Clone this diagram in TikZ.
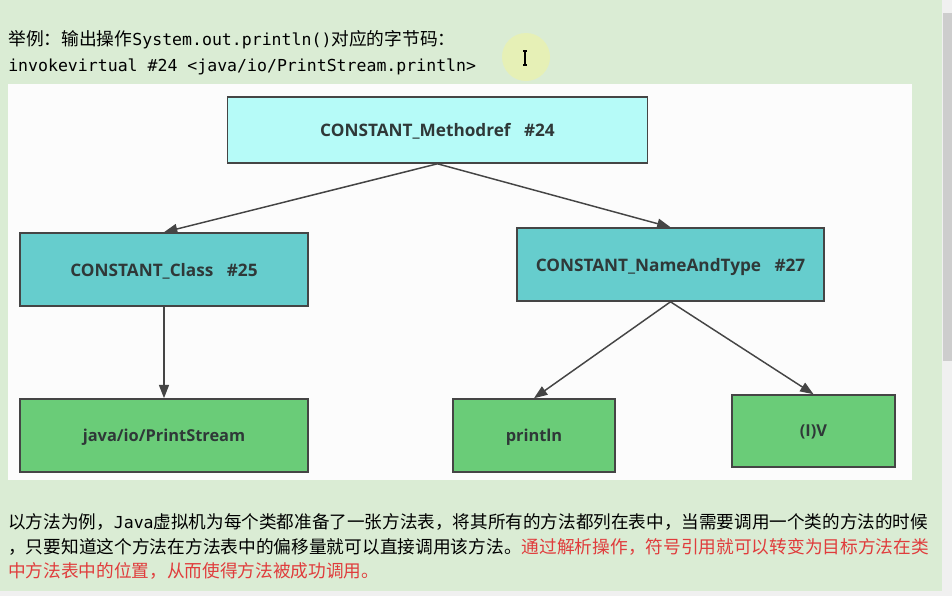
\documentclass[tikz,border=0pt]{standalone}
\usepackage{fontspec}
\setmainfont{Open Sans}
\newfontfamily\cjk{Noto Sans CJK SC}
\newfontfamily\mono{DejaVu Sans Mono}
\newfontfamily\boxfont{Open Sans}
\usetikzlibrary{arrows.meta}
\definecolor{bg}{HTML}{DAECD4}
\definecolor{panel}{HTML}{FCFCFC}
\definecolor{cyanlight}{HTML}{B6FBF8}
\definecolor{cyanmid}{HTML}{66CDCD}
\definecolor{greenbox}{HTML}{6ACC78}
\definecolor{edge}{HTML}{454545}
\definecolor{boxtext}{HTML}{2F3838}
\definecolor{redtext}{HTML}{E03C3C}
\definecolor{track}{HTML}{F0F0F0}
\definecolor{thumb}{HTML}{CDCDCD}
\begin{document}
\begin{tikzpicture}[x=0.75pt,y=-0.75pt,
  cbox/.style={draw=edge,line width=1.2pt,inner sep=0pt,text depth=0pt,font=\boxfont\bfseries\fontsize{12.9}{15}\selectfont,text=boxtext},
  leaf/.style={cbox,fill=greenbox,font=\boxfont\bfseries\fontsize{12.3}{15}\selectfont},
  conn/.style={draw=edge,line width=1.1pt,-{Triangle[length=10pt,width=7.5pt]}},
  para/.style={anchor=west,inner sep=0pt}]
\useasboundingbox (0,0) rectangle (952,596);
\fill[bg] (0,0) rectangle (952,596);
\fill[track] (942,0) rectangle (952,596);
\fill[thumb] (943,13) rectangle (952,361);
\fill[track] (0,591) rectangle (942,596);
% cursor highlight
\fill[yellow!50!white,opacity=0.35] (526,57) circle[radius=24];
\draw[line width=0.8pt] (523,51) -- (527,51) (525,51) -- (525,65) (523,65) -- (527,65);
% header text
\node[para] (h1) at (8,40) {\cjk\fontsize{13.3}{16}\selectfont 举例：输出操作{\mono\fontsize{12.4}{15}\selectfont System.out.println()}对应的字节码：};
\node[para] (h2) at (8,67) {\mono\fontsize{12.4}{15}\selectfont invokevirtual \#24 <java/io/PrintStream.println>};
% panel
\fill[panel] (8,84) rectangle (912,480);
% boxes
\node[cbox,fill=cyanlight,minimum width=315pt,minimum height=49.5pt] (mref) at (437.5,130) {CONSTANT\_Methodref\ \ \ \#24};
\node[cbox,fill=cyanmid,minimum width=216pt,minimum height=54.75pt] (cls) at (164,269.5) {CONSTANT\_Class\ \ \ \#25};
\node[cbox,fill=cyanmid,minimum width=230.25pt,minimum height=54.75pt] (nat) at (670.5,264.5) {CONSTANT\_NameAndType\ \ \ \#27};
\node[leaf,minimum width=216pt,minimum height=54.75pt] (ps) at (164,435.5) {java/io/PrintStream};
\node[leaf,minimum width=121.5pt,minimum height=54.75pt] (pl) at (534,435.5) {println};
\node[leaf,minimum width=122.25pt,minimum height=54pt] (iv) at (813.5,431) {(I)V};
% connectors
\draw[conn] (mref.south) -- (cls.north);
\draw[conn] (mref.south) -- (nat.north);
\draw[conn] (cls.south) -- (ps.north);
\draw[conn] (nat.south) -- (pl.north);
\draw[conn] (nat.south) -- (iv.north);
% bottom text
\node[para] (b1) at (8,522) {\cjk\fontsize{13.2}{16}\selectfont 以方法为例，{\mono\fontsize{12.4}{15}\selectfont Java}虚拟机为每个类都准备了一张方法表，将其所有的方法都列在表中，当需要调用一个类的方法的时候};
\node[para] (b2) at (8,547) {\cjk\fontsize{13.28}{16}\selectfont ，只要知道这个方法在方法表中的偏移量就可以直接调用该方法。\textcolor{redtext}{通过解析操作，符号引用就可以转变为目标方法在类}};
\node[para] (b3) at (8,571) {\cjk\fontsize{13.25}{16}\selectfont\color{redtext} 中方法表中的位置，从而使得方法被成功调用。};
\end{tikzpicture}
\end{document}
